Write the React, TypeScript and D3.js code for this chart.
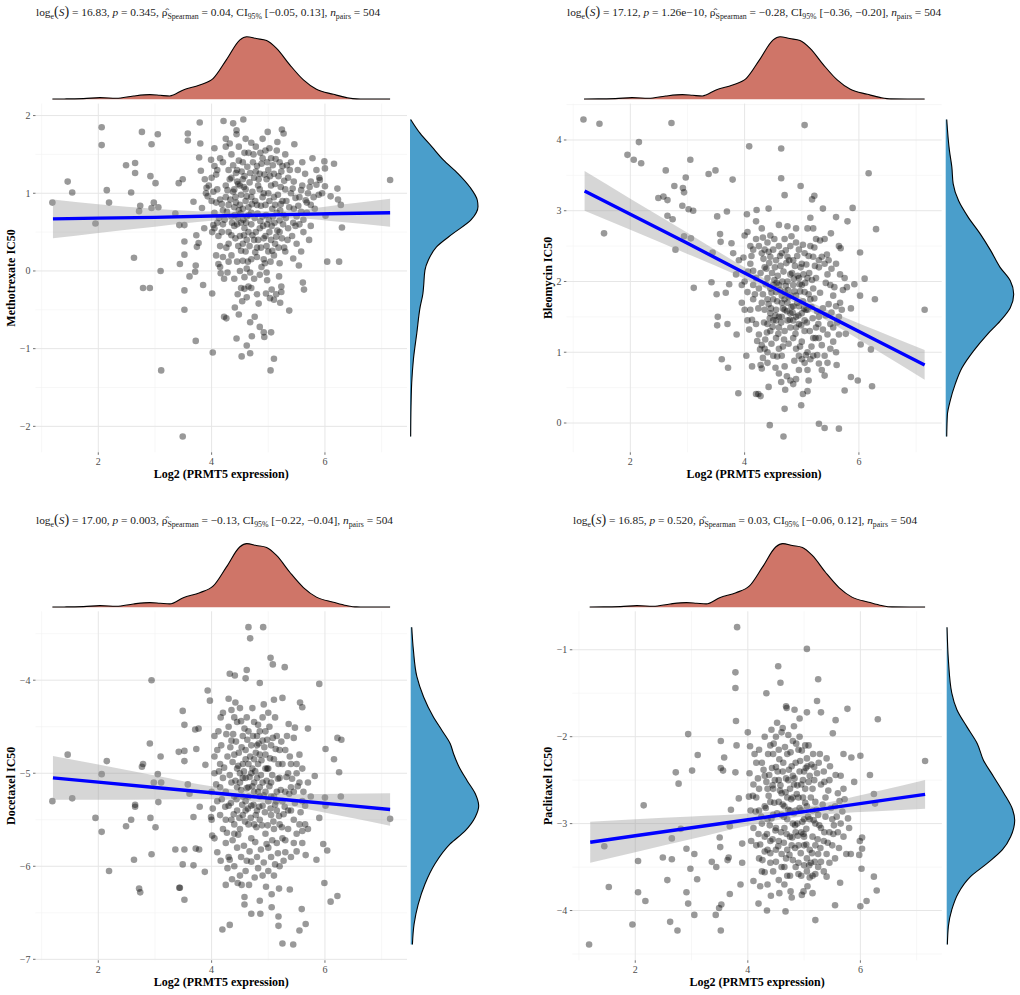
import React, { useEffect } from "react"
import * as d3 from "d3"

type Pt = [number, number]

// shared marginal density of PRMT5 expression (relative height, 1 = peak)
const exprDensity: Pt[] = [
  [1.19, 0.004], [1.44, 0.006], [1.74, 0.01], [2.03, 0.027], [2.32, 0.016], [2.62, 0.053],
  [2.91, 0.074], [3.09, 0.064], [3.26, 0.053], [3.5, 0.15], [3.79, 0.23], [4.03, 0.335],
  [4.26, 0.63], [4.5, 0.95], [4.62, 1.0], [4.79, 0.97], [4.97, 0.94], [5.15, 0.81],
  [5.38, 0.55], [5.62, 0.31], [5.85, 0.16], [6.15, 0.08], [6.38, 0.027], [6.56, 0.006], [7.15, 0.005],
]

const xTicks = [2, 4, 6]

// ---------- Methotrexate ----------
const methotrexatePoints: Pt[] = [
  [1.19, 0.88], [1.46, 1.15], [1.54, 1.01], [1.95, 0.61], [2.06, 1.85], [2.06, 1.62], [2.15, 1.04], [2.19, 0.88],
  [2.49, 1.36], [2.58, 1.01], [2.65, 1.39], [2.65, 1.26], [2.63, 0.17], [2.77, 1.79], [2.74, 0.84], [2.72, 0.77],
  [2.79, -0.22], [2.91, -0.22], [2.92, 1.22], [2.94, 1.63], [2.98, 0.88], [2.94, 0.81], [3.01, 1.13], [3.05, 1.76],
  [3.06, 0.82], [3.1, 0.0], [3.11, -1.28], [3.36, 0.74], [3.42, 1.13], [3.49, 1.18], [3.43, 0.59], [3.52, 0.59],
  [3.44, 0.09], [3.52, 0.21], [3.52, 0.38], [3.52, -0.25], [3.52, -0.5], [3.49, -2.13], [3.58, 1.77], [3.58, 1.68],
  [3.61, -0.07], [3.68, 0.89], [3.72, 0.07], [3.71, -0.01], [3.73, 0.46], [3.74, 0.31], [3.77, 0.36], [3.72, -0.9],
  [3.78, 1.46], [3.79, 1.91], [3.8, 1.64], [3.81, 1.29], [3.85, -0.18], [3.83, 0.81], [3.87, 0.55], [3.88, 1.18],
  [3.91, 1.07], [3.93, 0.96], [3.99, 1.43], [4.01, -0.29], [4.02, -1.05], [4.01, 0.5], [4.03, 0.59], [4.05, 1.58],
  [4.08, 1.24], [4.12, 0.09], [4.16, -0.03], [4.22, -0.59], [4.26, -0.61], [4.21, 1.93], [4.25, 1.7], [4.32, 1.64],
  [4.38, 1.9], [4.44, 1.81], [4.44, 1.76], [4.41, -0.47], [4.44, -0.87], [4.48, -0.56], [4.53, -1.1], [4.54, -0.39],
  [4.56, 1.95], [4.62, -0.96], [4.68, -1.06], [4.68, -0.66], [4.71, -0.84], [4.76, -0.59], [4.83, -0.42], [4.85, -0.72],
  [4.93, -0.85], [4.92, -0.79], [5.04, -1.28], [5.05, -0.79], [5.1, -1.13], [4.97, -0.02], [4.96, -0.29], [5.03, -0.35],
  [5.1, -0.37], [5.19, -0.07], [5.14, -0.3], [5.23, -0.2], [5.21, -0.41], [5.23, -0.27], [5.37, -0.51], [4.99, 1.79],
  [5.24, 1.82], [5.27, 1.77], [5.46, 1.63], [5.44, 0.16], [5.54, 0.07], [5.58, 0.25], [5.61, -0.15], [5.63, -0.24],
  [5.72, 0.4], [5.78, 1.45], [5.75, 0.58], [5.99, 1.41], [6.0, 1.32], [6.01, 0.71], [6.04, 0.12], [6.1, 0.96],
  [6.16, 1.38], [6.22, 1.06], [6.23, 0.92], [6.25, 0.12], [6.28, 0.85], [6.3, 0.56], [7.15, 1.17], [5.91, 1.17],
  [6.0, 1.09], [5.85, 1.11], [5.89, 0.98], [5.66, 0.91],
  [4.45, 1.15], [4.5, 1.1], [4.55, 1.18], [4.6, 1.05], [4.42, 0.95], [4.5, 0.85], [4.55, 0.8], [4.48, 0.78],
  [4.6, 0.9], [4.65, 0.82], [4.7, 0.75], [4.4, 0.82], [4.35, 0.7], [4.3, 0.85], [4.25, 0.95], [4.2, 0.78],
  [4.15, 0.92], [4.1, 1.05], [4.05, 0.55], [4.12, 0.45], [4.2, 0.6], [4.3, 0.5], [4.4, 0.58], [4.5, 0.45],
  [4.55, 0.35], [4.6, 0.25], [4.65, 0.5], [4.7, 0.6], [4.75, 0.4], [4.8, 0.3], [4.85, 0.55], [4.9, 0.7],
  [4.95, 0.85], [5.0, 1.0], [5.05, 1.1], [5.1, 0.95], [5.15, 0.75], [5.2, 0.65], [5.25, 0.9], [5.3, 1.05],
  [5.35, 1.2], [5.4, 1.0], [5.45, 0.8], [5.5, 0.7], [5.55, 0.95], [5.6, 1.1], [5.65, 1.25], [5.7, 1.0],
  [5.75, 0.85], [5.8, 0.95], [4.75, 1.2], [4.8, 1.35], [4.85, 1.25], [4.9, 1.45], [4.95, 1.55], [5.0, 1.3],
  [5.05, 1.45], [5.1, 1.25], [5.15, 1.55], [5.2, 1.4], [5.25, 1.35], [5.3, 1.5], [5.38, 1.3], [4.45, 1.3],
  [4.55, 1.4], [4.65, 1.52], [4.7, 1.65], [4.6, 1.7], [4.35, 1.5], [4.25, 1.6], [4.15, 1.45], [4.05, 1.35],
  [4.0, 1.2], [4.1, 1.3], [3.95, 1.1], [3.9, 1.0], [4.0, 0.9], [4.05, 0.75], [4.3, 0.35], [4.35, 0.2],
  [4.45, 0.12], [4.55, 0.13], [4.62, 0.03], [4.7, 0.15], [4.8, 0.18], [4.88, 0.05], [4.92, 0.15], [5.0, 0.25],
  [5.05, 0.4], [5.12, 0.35], [5.2, 0.5], [5.28, 0.3], [5.35, 0.55], [5.42, 0.45], [5.5, 0.35], [5.55, 0.6],
  [5.62, 0.5], [5.68, 0.75], [5.1, 0.2], [5.2, 0.1], [5.3, 0.25], [4.65, -0.2], [4.58, -0.23], [4.52, -0.22],
  [4.7, -0.22], [4.75, -0.1], [4.85, -0.05], [4.5, 0.0], [4.4, -0.1], [4.28, -0.02], [4.2, 0.18], [4.15, 0.32],
  [4.9, 0.95], [4.85, 1.05], [4.7, 0.95], [4.8, 0.85], [4.62, 0.7], [4.98, 0.6], [5.08, 0.7], [5.12, 0.85],
  [5.22, 1.08], [4.4, 1.05], [4.35, 1.2], [4.25, 1.1], [4.52, 0.62], [4.45, 0.6], [4.58, 0.55], [4.78, 0.5],
  [4.95, 0.45], [5.45, 1.15], [5.52, 1.3], [5.6, 1.4], [5.4, 1.4], [5.75, 1.15], [5.85, 1.3], [5.9, 1.2],
  [5.95, 1.0], [4.3, 1.3], [4.2, 1.4], [4.48, 1.6], [4.78, 1.6], [4.9, 1.7], [4.15, 0.05], [4.22, -0.1], [4.08, 0.2],
  [4.33, 0.92], [4.38, 1.02], [4.43, 0.88], [4.47, 1.12], [4.52, 0.98], [4.57, 1.08], [4.62, 0.96], [4.67, 1.14],
  [4.72, 1.02], [4.77, 0.9], [4.82, 1.1], [4.87, 0.84], [4.92, 1.0], [4.97, 1.18], [5.02, 0.9], [5.07, 0.8],
  [5.12, 1.12], [5.17, 0.98], [5.22, 0.86], [5.27, 0.72], [5.32, 0.9], [5.37, 0.82], [4.36, 0.62], [4.41, 0.72],
  [4.46, 0.68], [4.51, 0.74], [4.56, 0.66], [4.61, 0.62], [4.66, 0.72], [4.71, 0.86], [4.76, 0.68], [4.81, 0.74],
  [4.86, 0.64], [4.91, 0.58], [4.96, 0.72], [5.01, 0.66], [5.06, 0.58], [5.11, 0.62], [5.16, 0.52], [5.21, 0.78],
  [5.26, 0.6], [5.31, 0.68], [4.27, 0.76], [4.23, 0.66], [4.18, 0.86], [4.13, 0.68], [4.08, 0.88], [4.03, 1.02],
  [4.28, 1.04], [4.32, 1.18], [4.38, 1.36], [4.43, 1.26], [4.48, 1.42], [4.53, 1.28], [4.58, 1.22], [4.63, 1.34],
  [4.68, 1.26], [4.73, 1.4], [4.78, 1.28], [4.83, 1.18], [4.88, 1.38], [4.93, 1.24], [4.98, 1.4], [5.03, 1.22],
  [5.08, 1.36], [5.13, 1.44], [5.18, 1.22], [5.23, 1.28], [5.28, 1.16], [5.33, 1.36], [5.43, 1.06], [5.48, 0.94],
  [5.53, 0.84], [5.58, 0.76], [5.48, 0.58], [5.58, 1.04], [5.68, 0.88], [5.73, 1.08], [4.42, 0.42], [4.47, 0.32],
  [4.52, 0.26], [4.57, 0.46], [4.62, 0.4], [4.67, 0.32], [4.72, 0.46], [4.77, 0.24], [4.82, 0.4], [4.87, 0.3],
  [4.92, 0.42], [4.97, 0.32], [5.02, 0.5], [5.07, 0.26], [5.14, 0.44], [5.18, 0.3], [5.24, 0.42], [4.35, 0.46],
  [4.26, 0.3], [4.18, 0.5], [4.1, 0.62], [4.58, 1.52], [4.74, 1.5], [4.86, 1.52], [5.02, 1.58], [5.16, 1.66],
  [4.94, 0.1], [5.04, 0.12], [4.64, 0.12], [4.58, -0.08], [4.68, -0.02], [4.98, -0.12], [5.06, -0.24], [4.46, -0.3],
  [4.62, -0.34], [4.8, -0.3], [4.3, 0.12], [5.34, 0.4], [5.44, 0.62], [5.62, 0.66], [5.82, 0.8],
]
// [x, fit, lower, upper]
const methotrexateFit: [number, number, number, number][] = [
  [1.2, 0.67, 0.42, 0.92], [2.0, 0.68, 0.49, 0.86], [3.0, 0.69, 0.57, 0.8], [4.0, 0.707, 0.645, 0.765],
  [4.7, 0.717, 0.67, 0.765], [5.5, 0.728, 0.675, 0.785], [6.3, 0.739, 0.63, 0.855], [7.15, 0.75, 0.57, 0.93],
]
const methotrexateDensity: Pt[] = [
  [1.95, 0.01], [1.77, 0.15], [1.6, 0.32], [1.43, 0.49], [1.25, 0.71], [1.08, 0.88], [0.91, 0.99], [0.83, 1.0],
  [0.66, 0.9], [0.48, 0.63], [0.31, 0.39], [0.14, 0.27], [0.01, 0.22], [-0.2, 0.2], [-0.29, 0.19], [-0.46, 0.15],
  [-0.8, 0.1], [-1.14, 0.05], [-1.44, 0.025], [-1.74, 0.015], [-2.13, 0.01],
]
const methotrexateTicks = [-2, -1, 0, 1, 2]

// ---------- Bleomycin ----------
const bleomycinPoints: Pt[] = [
  [1.18, 4.29], [1.46, 4.23], [1.54, 2.68], [1.95, 3.79], [2.06, 3.72], [2.15, 3.97], [2.19, 3.67], [2.72, 4.24],
  [2.62, 3.57], [2.77, 3.35], [2.49, 3.18], [2.58, 3.2], [2.65, 3.15], [2.65, 2.93], [2.74, 2.88], [2.79, 2.45],
  [2.92, 3.32], [2.94, 3.26], [2.97, 3.47], [2.91, 3.07], [2.94, 2.64], [3.05, 3.72], [3.02, 3.02], [3.1, 3.0],
  [3.06, 2.61], [3.11, 1.91], [3.37, 3.52], [3.49, 3.57], [3.42, 1.99], [3.44, 2.41], [3.52, 2.92], [3.51, 1.82],
  [3.53, 1.5], [3.52, 1.38], [3.57, 2.67], [3.58, 2.56], [3.6, 0.9], [3.69, 2.99], [3.67, 1.84], [3.7, 1.4],
  [3.71, 0.78], [3.79, 3.44], [3.77, 2.54], [3.8, 2.4], [3.73, 1.96], [3.86, 1.25], [3.89, 0.42], [4.03, 0.95],
  [4.08, 3.91], [4.04, 2.95], [4.21, 3.01], [4.42, 3.03], [4.13, 0.8], [4.2, 0.41], [4.24, 0.41], [4.28, 0.38],
  [4.3, 0.77], [4.42, 0.51], [4.44, -0.03], [4.64, 3.88], [4.64, 3.46], [4.7, 3.22], [4.68, -0.19], [4.7, 0.2],
  [4.71, 0.47], [4.98, 3.35], [5.05, 4.21], [4.99, 0.25], [5.02, 0.41], [5.1, 0.45], [5.22, 3.21], [5.18, 3.16],
  [5.3, -0.01], [5.4, -0.07], [5.65, -0.08], [5.37, 3.03], [5.4, 0.67], [5.6, 2.91], [5.61, 0.82], [5.75, 0.46],
  [5.8, 2.85], [5.86, 0.65], [5.89, 3.04], [5.98, 0.6], [6.02, 2.41], [6.03, 1.11], [6.02, 1.8], [6.1, 2.04],
  [6.17, 3.53], [6.21, 1.04], [6.23, 0.52], [6.28, 1.75], [6.3, 2.74], [7.15, 1.6], [5.92, 1.96], [5.86, 1.62],
  [5.79, 1.92], [5.77, 1.26], [5.67, 1.7], [5.68, 2.47], [5.51, 2.68], [5.44, 2.38],
  [4.0, 2.0], [4.05, 1.85], [4.1, 2.25], [4.15, 2.45], [4.2, 2.6], [4.25, 2.5], [4.3, 2.4], [4.35, 2.2],
  [4.4, 2.05], [4.45, 1.9], [4.5, 1.75], [4.55, 1.6], [4.6, 1.5], [4.65, 1.7], [4.7, 1.85], [4.75, 2.0],
  [4.8, 2.1], [4.85, 1.95], [4.9, 1.8], [4.95, 1.65], [5.0, 1.55], [5.05, 1.45], [5.1, 1.6], [5.15, 1.75],
  [5.2, 1.9], [5.25, 2.05], [5.3, 2.2], [5.35, 2.35], [5.4, 2.25], [5.45, 2.1], [5.5, 1.95], [5.55, 1.8],
  [5.6, 1.65], [5.65, 1.5], [4.2, 1.4], [4.25, 1.25], [4.3, 1.1], [4.35, 1.05], [4.4, 1.0], [4.45, 1.3],
  [4.5, 1.45], [4.55, 1.2], [4.6, 1.05], [4.65, 0.95], [4.7, 1.3], [4.75, 1.45], [4.8, 1.35], [4.85, 1.2],
  [4.9, 1.05], [4.95, 0.95], [5.0, 1.15], [5.05, 1.3], [5.1, 1.0], [5.15, 0.9], [5.2, 1.2], [5.25, 1.35],
  [5.3, 1.5], [5.35, 1.1], [5.4, 0.95], [5.45, 1.25], [5.5, 1.05], [5.55, 1.35], [4.1, 1.6], [4.15, 1.75],
  [4.05, 1.45], [3.95, 1.7], [3.9, 2.3], [3.85, 2.1], [4.0, 2.65], [4.05, 2.7], [4.1, 2.5], [4.2, 2.85],
  [4.3, 2.75], [4.4, 2.55], [4.45, 2.65], [4.5, 2.45], [4.55, 2.3], [4.6, 2.5], [4.65, 2.4], [4.7, 2.6],
  [4.75, 2.35], [4.8, 2.5], [4.85, 2.3], [4.9, 2.55], [4.95, 2.45], [5.0, 2.25], [5.05, 2.4], [5.1, 2.75],
  [5.15, 2.5], [5.2, 2.35], [5.25, 2.6], [5.3, 2.3], [4.6, 2.8], [4.75, 2.78], [4.9, 2.75], [5.2, 2.75],
  [5.15, 2.9], [4.35, 1.6], [4.4, 1.75], [4.5, 1.95], [4.55, 1.85], [4.6, 1.95], [4.65, 1.8], [4.7, 1.6],
  [4.75, 1.7], [4.8, 1.8], [4.85, 1.65], [4.9, 1.5], [4.95, 1.4], [5.0, 1.95], [5.05, 1.85], [5.1, 2.05],
  [4.4, 1.4], [4.45, 1.55], [4.55, 1.45], [4.6, 1.35], [4.65, 1.5], [4.7, 1.75], [4.8, 1.55], [4.85, 1.45],
  [4.9, 1.35], [4.95, 2.05], [4.4, 0.85], [4.5, 0.95], [4.6, 0.7], [4.7, 0.8], [4.8, 0.6], [4.85, 0.55],
  [4.95, 0.75], [5.05, 0.85], [5.1, 0.75], [5.2, 0.95], [5.3, 1.2], [5.35, 0.75], [5.45, 0.85], [5.5, 1.4],
  [5.55, 1.15], [5.6, 1.0], [5.65, 1.25], [5.7, 1.6], [5.75, 2.05], [5.6, 2.25], [5.65, 2.5], [4.25, 1.9],
  [4.3, 1.7], [4.15, 2.15], [4.2, 2.05], [4.45, 2.35], [4.35, 2.45], [3.95, 1.95], [4.0, 1.6], [4.15, 1.95],
  [4.32, 1.82], [4.37, 1.96], [4.42, 1.68], [4.47, 1.84], [4.52, 2.02], [4.57, 1.72], [4.62, 1.88], [4.67, 1.62],
  [4.72, 1.94], [4.77, 1.78], [4.82, 1.64], [4.87, 1.86], [4.92, 1.7], [4.97, 1.86], [5.02, 1.72], [5.07, 1.6],
  [5.12, 1.82], [5.17, 1.64], [5.22, 1.76], [5.27, 1.58], [4.34, 1.42], [4.39, 1.28], [4.44, 1.48], [4.49, 1.36],
  [4.54, 1.52], [4.59, 1.26], [4.64, 1.42], [4.69, 1.18], [4.74, 1.58], [4.79, 1.46], [4.84, 1.56], [4.89, 1.26],
  [4.94, 1.52], [4.99, 1.38], [5.04, 1.62], [5.09, 1.42], [5.14, 1.3], [5.19, 1.48], [5.24, 1.2], [5.29, 1.4],
  [4.28, 2.12], [4.33, 2.32], [4.38, 2.18], [4.43, 2.26], [4.48, 2.12], [4.53, 2.2], [4.58, 2.08], [4.63, 2.22],
  [4.68, 2.14], [4.73, 2.26], [4.78, 2.3], [4.83, 2.12], [4.88, 2.22], [4.93, 2.08], [4.98, 2.2], [5.03, 2.1],
  [5.08, 2.24], [5.13, 2.12], [5.18, 2.02], [5.23, 2.22], [4.24, 1.62], [4.18, 1.82], [4.13, 1.46], [4.08, 1.32],
  [4.22, 1.16], [4.27, 1.04], [4.32, 0.92], [4.47, 1.12], [4.57, 0.94], [4.67, 1.08], [4.77, 1.12], [4.87, 0.88],
  [4.97, 1.08], [5.07, 0.96], [5.17, 1.08], [5.27, 0.96], [5.37, 1.32], [5.42, 1.52], [5.47, 1.68], [5.52, 1.56],
  [5.57, 1.92], [5.37, 1.62], [5.32, 1.84], [5.42, 1.98], [5.47, 2.3], [5.52, 2.18], [5.62, 1.42], [5.72, 1.88],
  [5.67, 2.1], [4.42, 2.42], [4.52, 2.6], [4.62, 2.36], [4.72, 2.44], [4.82, 2.64], [4.92, 2.36], [5.02, 2.52],
  [5.12, 2.36], [5.22, 2.48], [5.32, 2.58], [5.4, 2.6], [4.32, 2.62], [4.12, 2.36], [4.06, 2.14], [3.98, 2.34],
  [4.54, 0.78], [4.64, 0.58], [4.74, 0.66], [4.9, 0.62], [5.0, 0.9], [5.12, 0.6], [5.3, 0.84], [4.28, 0.82],
  [4.36, 1.18], [4.46, 1.62], [4.56, 1.98], [4.66, 2.0], [4.76, 1.88], [4.86, 2.04], [4.96, 1.96], [5.06, 1.98],
]
const bleomycinFit: [number, number, number, number][] = [
  [1.2, 3.28, 3.0, 3.56], [2.0, 2.95, 2.73, 3.17], [3.0, 2.54, 2.39, 2.69], [4.0, 2.12, 2.04, 2.2],
  [4.7, 1.83, 1.77, 1.89], [5.5, 1.5, 1.42, 1.58], [6.3, 1.17, 1.03, 1.31], [7.15, 0.82, 0.61, 1.03],
]
const bleomycinDensity: Pt[] = [
  [4.29, 0.015], [3.85, 0.055], [3.62, 0.09], [3.38, 0.11], [3.14, 0.19], [2.91, 0.33], [2.67, 0.51], [2.44, 0.66],
  [2.2, 0.8], [2.01, 0.95], [1.82, 1.0], [1.63, 0.95], [1.44, 0.8], [1.25, 0.61], [1.02, 0.41], [0.78, 0.24],
  [0.55, 0.14], [0.31, 0.065], [0.12, 0.025], [-0.19, 0.015],
]
const bleomycinTicks = [0, 1, 2, 3, 4]

// ---------- Docetaxel ----------
const docetaxelPoints: Pt[] = [
  [1.19, -5.3], [1.46, -4.8], [1.54, -5.27], [1.95, -5.48], [2.06, -5.01], [2.06, -5.63], [2.15, -4.87], [2.19, -6.05],
  [2.49, -5.57], [2.58, -5.5], [2.65, -5.34], [2.65, -5.36], [2.63, -5.93], [2.72, -6.24], [2.74, -6.28], [2.77, -4.93],
  [2.79, -4.9], [2.91, -4.68], [2.94, -4.0], [2.92, -5.48], [2.94, -5.87], [2.98, -5.1], [3.01, -5.58], [3.05, -5.01],
  [3.06, -5.31], [3.1, -4.82], [3.11, -5.1], [3.36, -5.82], [3.42, -4.77], [3.43, -6.23], [3.44, -6.23], [3.49, -5.98],
  [3.49, -4.33], [3.52, -4.48], [3.52, -4.87], [3.52, -4.76], [3.52, -5.82], [3.52, -6.36], [3.58, -5.12], [3.61, -5.22],
  [3.68, -5.47], [3.68, -5.99], [3.72, -5.81], [3.71, -4.53], [3.73, -4.74], [3.77, -4.52], [3.78, -5.82], [3.79, -5.36],
  [3.88, -6.06], [3.89, -4.91], [3.93, -4.11], [3.97, -4.22], [3.99, -5.47], [4.01, -5.67], [4.16, -5.94], [4.19, -6.68],
  [4.25, -6.2], [4.32, -6.63], [4.32, -5.93], [4.32, -3.93], [4.41, -3.95], [4.53, -6.2], [4.58, -6.33], [4.58, -6.41],
  [4.65, -3.43], [4.68, -3.55], [4.91, -3.43], [4.7, -6.51], [4.86, -6.51], [4.85, -6.37], [5.04, -3.76], [5.08, -3.83],
  [5.29, -3.86], [4.85, -4.03], [4.62, -3.89], [4.6, -3.98], [5.06, -6.44], [5.18, -6.54], [5.18, -6.64], [5.25, -6.83],
  [5.44, -6.84], [5.55, -6.69], [5.66, -6.62], [5.59, -6.46], [5.19, -6.24], [5.38, -6.25], [5.9, -4.04], [6.01, -4.74],
  [5.99, -6.18], [6.1, -6.38], [6.16, -4.85], [6.22, -4.62], [6.25, -4.99], [6.29, -4.64], [6.28, -5.25], [6.22, -6.32],
  [7.15, -5.49], [6.0, -5.26], [6.01, -5.35], [6.04, -5.83], [5.97, -5.76], [5.9, -5.48], [5.85, -5.93], [5.82, -5.03],
  [5.7, -4.52], [5.56, -4.24], [5.6, -4.29], [5.47, -4.51], [5.36, -4.47], [5.25, -4.19], [5.1, -4.21],
  [4.05, -4.6], [4.1, -4.75], [4.15, -4.9], [4.2, -5.05], [4.25, -5.2], [4.3, -5.35], [4.35, -5.5], [4.4, -5.65],
  [4.45, -5.8], [4.5, -5.6], [4.55, -5.45], [4.6, -5.3], [4.65, -5.15], [4.7, -5.0], [4.75, -4.85], [4.8, -4.7],
  [4.85, -4.55], [4.9, -4.65], [4.95, -4.8], [5.0, -4.95], [5.05, -5.1], [5.1, -5.25], [5.15, -5.4], [5.2, -5.55],
  [5.25, -5.7], [5.3, -5.85], [5.35, -5.6], [5.4, -5.4], [5.45, -5.2], [5.5, -5.0], [5.55, -4.8], [5.6, -5.3],
  [5.65, -5.55], [5.7, -5.1], [4.1, -5.3], [4.15, -5.45], [4.2, -5.6], [4.25, -5.75], [4.3, -4.5], [4.35, -4.65],
  [4.4, -4.8], [4.45, -4.95], [4.5, -5.1], [4.55, -5.25], [4.6, -5.4], [4.65, -5.55], [4.7, -5.7], [4.75, -5.55],
  [4.8, -5.4], [4.85, -5.25], [4.9, -5.1], [4.95, -4.95], [5.0, -5.3], [5.05, -5.45], [5.1, -5.6], [5.15, -5.75],
  [5.2, -5.05], [5.25, -4.9], [5.3, -4.75], [5.35, -5.0], [5.4, -5.15], [5.45, -5.5], [5.5, -5.65], [4.2, -4.35],
  [4.3, -4.2], [4.4, -4.4], [4.45, -4.45], [4.5, -4.3], [4.55, -4.6], [4.6, -4.75], [4.65, -4.55], [4.7, -4.7],
  [4.75, -4.45], [4.8, -4.6], [4.85, -4.8], [4.9, -4.4], [4.95, -4.55], [5.0, -4.35], [5.05, -4.7], [5.1, -4.85],
  [5.15, -4.6], [5.2, -4.75], [4.4, -5.25], [4.45, -5.4], [4.5, -5.0], [4.55, -4.9], [4.6, -5.05], [4.65, -4.9],
  [4.7, -5.35], [4.75, -5.2], [4.8, -5.05], [4.85, -5.5], [4.9, -5.35], [4.95, -5.65], [5.0, -5.8], [5.05, -5.9],
  [4.8, -5.9], [4.7, -5.95], [4.6, -6.05], [4.5, -6.1], [4.9, -6.1], [5.0, -6.05], [5.1, -6.1], [5.2, -6.0],
  [4.4, -6.0], [4.3, -5.9], [4.25, -5.5], [4.15, -5.15], [4.05, -5.0], [4.0, -5.2], [4.0, -5.5], [4.05, -5.7],
  [4.1, -5.85], [5.3, -5.2], [5.35, -5.4], [5.45, -5.75], [5.55, -5.55], [5.6, -5.75], [5.65, -5.35], [5.7, -5.6],
  [5.75, -5.25], [5.55, -5.1], [5.5, -4.9], [5.4, -4.9], [5.6, -4.95], [4.35, -5.1], [4.45, -5.15], [4.55, -5.05],
  [4.65, -5.25], [4.75, -5.1], [4.85, -5.15], [4.95, -5.2], [5.05, -5.25], [5.15, -5.2], [5.25, -5.3], [4.6, -4.85],
  [4.72, -4.95], [4.82, -4.9],
  [4.32, -5.02], [4.37, -4.88], [4.42, -5.08], [4.47, -4.92], [4.52, -5.18], [4.57, -4.98], [4.62, -5.16], [4.67, -5.04],
  [4.72, -5.14], [4.77, -4.98], [4.82, -5.2], [4.87, -5.02], [4.92, -5.24], [4.97, -5.08], [5.02, -5.14], [5.07, -5.02],
  [5.12, -5.34], [5.17, -5.06], [5.22, -5.18], [5.27, -5.44], [4.34, -5.32], [4.39, -5.44], [4.44, -5.28], [4.49, -5.48],
  [4.54, -5.34], [4.59, -5.52], [4.64, -5.38], [4.69, -5.48], [4.74, -5.34], [4.79, -5.58], [4.84, -5.36], [4.89, -5.56],
  [4.94, -5.42], [4.99, -5.56], [5.04, -5.38], [5.09, -5.52], [5.14, -5.3], [5.19, -5.46], [5.24, -5.58], [5.29, -5.36],
  [4.28, -4.82], [4.33, -4.72], [4.38, -4.58], [4.43, -4.66], [4.48, -4.78], [4.53, -4.72], [4.58, -4.52], [4.63, -4.64],
  [4.68, -4.82], [4.73, -4.6], [4.78, -4.78], [4.83, -4.68], [4.88, -4.86], [4.93, -4.72], [4.98, -4.64], [5.03, -4.84],
  [5.08, -4.62], [5.13, -4.74], [5.18, -4.9], [5.23, -4.66], [4.24, -5.36], [4.18, -5.28], [4.13, -4.98], [4.08, -5.12],
  [4.22, -4.94], [4.17, -4.7], [4.12, -4.55], [4.27, -5.64], [4.37, -5.72], [4.47, -5.66], [4.57, -5.78], [4.67, -5.84],
  [4.77, -5.74], [4.87, -5.82], [4.97, -5.76], [5.07, -5.72], [5.17, -5.86], [5.27, -5.94], [4.62, -5.94], [4.52, -5.9],
  [4.82, -6.02], [4.92, -5.96], [5.12, -5.98], [5.32, -5.04], [5.37, -5.22], [5.42, -5.06], [5.47, -5.32], [5.52, -5.14],
  [5.57, -5.42], [5.62, -5.2], [5.38, -4.82], [5.45, -4.62], [5.33, -4.6], [4.42, -4.24], [4.52, -4.44], [4.62, -4.4],
  [4.72, -4.3], [4.82, -4.48], [4.92, -4.26], [5.02, -4.5], [5.12, -4.4], [4.35, -4.32], [4.26, -4.58], [4.16, -4.4],
  [4.46, -6.18], [4.66, -6.2], [4.76, -6.12], [4.96, -6.22], [5.06, -6.3], [4.36, -6.14], [4.28, -6.02], [5.3, -5.72],
  [5.4, -5.9], [5.5, -5.84], [5.6, -5.62], [5.66, -5.88], [4.05, -4.82], [4.02, -5.38], [4.4, -5.55], [4.78, -5.45],
  [4.98, -4.95],
]
const docetaxelFit: [number, number, number, number][] = [
  [1.2, -5.05, -5.285, -4.815], [2.0, -5.096, -5.286, -4.906], [3.0, -5.153, -5.283, -5.023], [4.0, -5.21, -5.28, -5.14],
  [4.7, -5.25, -5.3, -5.2], [5.5, -5.296, -5.366, -5.226], [6.3, -5.34, -5.46, -5.22], [7.15, -5.39, -5.565, -5.215],
]
const docetaxelDensity: Pt[] = [
  [-3.43, 0.015], [-3.68, 0.04], [-3.96, 0.09], [-4.18, 0.19], [-4.39, 0.33], [-4.54, 0.46], [-4.68, 0.58],
  [-4.79, 0.63], [-4.93, 0.71], [-5.08, 0.83], [-5.22, 0.95], [-5.35, 1.0], [-5.47, 0.95], [-5.62, 0.8],
  [-5.76, 0.58], [-5.97, 0.36], [-6.19, 0.21], [-6.41, 0.11], [-6.62, 0.05], [-6.84, 0.025],
]
const docetaxelTicks = [-7, -6, -5, -4]

// ---------- Paclitaxel ----------
const paclitaxelPoints: Pt[] = [
  [1.18, -4.39], [1.45, -3.26], [1.53, -3.73], [1.95, -4.16], [2.05, -3.43], [2.05, -3.79], [2.15, -2.79], [2.18, -3.89],
  [2.49, -3.39], [2.57, -3.65], [2.62, -4.13], [2.65, -3.41], [2.65, -3.17], [2.72, -2.41], [2.75, -4.23], [2.77, -2.54],
  [2.81, -3.06], [2.91, -3.29], [2.91, -3.79], [2.94, -3.92], [2.94, -1.97], [2.98, -3.52], [3.01, -2.39], [3.05, -3.35],
  [3.05, -4.05], [3.1, -3.64], [3.11, -2.21], [3.36, -3.44], [3.43, -4.05], [3.44, -3.5], [3.49, -3.97], [3.5, -3.16],
  [3.51, -3.27], [3.52, -2.05], [3.52, -4.23], [3.53, -3.93], [3.52, -2.36], [3.56, -2.39], [3.58, -2.24], [3.64, -3.42],
  [3.66, -3.39], [3.68, -3.81], [3.68, -3.03], [3.7, -2.84], [3.78, -1.26], [3.78, -1.44], [3.79, -1.82], [3.8, -2.1],
  [3.78, -2.41], [3.81, -0.74], [3.84, -2.71], [3.87, -3.7], [3.9, -3.23], [3.9, -3.45], [4.19, -3.92], [4.34, -4.0],
  [4.67, -4.01], [5.2, -4.11], [5.55, -3.94], [6.0, -3.95], [6.11, -3.89], [6.29, -3.77], [6.24, -3.61], [6.02, -3.52],
  [4.54, -1.19], [4.58, -1.38], [4.33, -1.5], [5.05, -0.99], [5.25, -1.34], [5.23, -1.59], [4.68, -1.65], [4.69, -1.67],
  [4.83, -1.69], [5.05, -1.72], [5.3, -1.72], [4.92, -1.79], [5.56, -1.81], [5.77, -1.68], [6.31, -1.8], [5.51, -1.96],
  [7.15, -2.28], [6.0, -2.22], [5.84, -2.24], [5.7, -2.2], [6.17, -2.44], [5.89, -2.52], [6.24, -2.66], [6.26, -2.77],
  [6.03, -3.16], [5.99, -3.2], [6.03, -3.29], [5.98, -3.36], [5.83, -3.35], [5.64, -3.68], [5.4, -3.61], [5.15, -3.8],
  [4.99, -3.78], [4.78, -3.85], [4.41, -3.83], [4.22, -3.72], [4.1, -3.66], [4.03, -2.42], [4.02, -2.69], [4.04, -2.11],
  [4.0, -1.95],
  [4.2, -2.15], [4.25, -2.3], [4.3, -2.45], [4.35, -2.6], [4.4, -2.75], [4.45, -2.9], [4.5, -3.05], [4.55, -3.2],
  [4.6, -3.35], [4.65, -3.5], [4.7, -3.3], [4.75, -3.15], [4.8, -3.0], [4.85, -2.85], [4.9, -2.7], [4.95, -2.55],
  [5.0, -2.4], [5.05, -2.25], [5.1, -2.45], [5.15, -2.6], [5.2, -2.75], [5.25, -2.9], [5.3, -3.05], [5.35, -3.2],
  [5.4, -3.35], [5.45, -3.1], [5.5, -2.95], [5.55, -2.8], [5.6, -2.65], [5.65, -3.0], [5.7, -3.15], [4.1, -2.55],
  [4.15, -2.7], [4.2, -2.85], [4.25, -3.0], [4.3, -3.15], [4.35, -3.3], [4.4, -3.45], [4.45, -2.2], [4.5, -2.35],
  [4.55, -2.5], [4.6, -2.65], [4.65, -2.8], [4.7, -2.95], [4.75, -2.6], [4.8, -2.45], [4.85, -2.3], [4.9, -2.15],
  [4.95, -3.1], [5.0, -3.25], [5.05, -3.4], [5.1, -3.3], [5.15, -3.15], [5.2, -3.0], [5.25, -3.35], [5.3, -2.55],
  [5.35, -2.4], [5.4, -2.25], [5.45, -2.5], [5.5, -3.25], [5.55, -3.4], [4.4, -2.1], [4.5, -2.0], [4.6, -1.95],
  [4.7, -2.2], [4.8, -2.05], [4.3, -2.0], [4.15, -2.3], [4.05, -2.85], [4.1, -3.05], [4.15, -3.25], [4.2, -3.4],
  [4.25, -3.55], [4.35, -3.7], [4.45, -3.55], [4.55, -3.65], [4.65, -3.7], [4.75, -3.6], [4.85, -3.5], [4.95, -3.6],
  [5.05, -3.55], [5.15, -3.6], [5.25, -3.5], [5.35, -3.55], [5.45, -3.45], [4.45, -2.6], [4.55, -2.75], [4.6, -2.9],
  [4.65, -3.05], [4.7, -2.7], [4.75, -2.85], [4.8, -2.7], [4.85, -3.1], [4.9, -3.25], [4.95, -2.85], [5.0, -2.95],
  [5.05, -2.8], [5.1, -2.95], [5.15, -2.85], [4.5, -3.3], [4.4, -3.2], [4.3, -2.8], [4.35, -2.95], [4.2, -2.6],
  [5.6, -3.1], [5.65, -2.45], [5.7, -2.6], [5.75, -3.35], [5.8, -3.05], [4.9, -3.45], [5.0, -3.15], [5.12, -3.45],
  [5.2, -3.25], [4.62, -2.4], [4.72, -2.5], [4.82, -2.55], [4.92, -2.4], [5.02, -2.6], [5.18, -2.35], [5.28, -2.2],
  [5.38, -2.7], [4.55, -2.15], [4.68, -3.4], [4.78, -3.25], [4.88, -3.0], [4.98, -2.7], [5.08, -2.1],
  [4.32, -2.82], [4.37, -2.68], [4.42, -2.94], [4.47, -2.76], [4.52, -2.88], [4.57, -2.62], [4.62, -2.78], [4.67, -2.64],
  [4.72, -2.84], [4.77, -2.72], [4.82, -2.88], [4.87, -2.66], [4.92, -2.82], [4.97, -2.98], [5.02, -2.76], [5.07, -2.92],
  [5.12, -2.7], [5.17, -2.96], [5.22, -2.84], [5.27, -3.02], [4.34, -3.12], [4.39, -3.02], [4.44, -3.18], [4.49, -3.08],
  [4.54, -3.26], [4.59, -3.1], [4.64, -3.22], [4.69, -3.12], [4.74, -3.36], [4.79, -3.16], [4.84, -3.28], [4.89, -3.14],
  [4.94, -3.34], [4.99, -3.12], [5.04, -3.24], [5.09, -3.48], [5.14, -3.34], [5.19, -3.44], [5.24, -3.18], [5.29, -3.28],
  [4.28, -2.38], [4.33, -2.52], [4.38, -2.44], [4.43, -2.36], [4.48, -2.5], [4.53, -2.4], [4.58, -2.56], [4.63, -2.3],
  [4.68, -2.48], [4.73, -2.38], [4.78, -2.34], [4.83, -2.48], [4.88, -2.56], [4.93, -2.28], [4.98, -2.5], [5.03, -2.36],
  [5.08, -2.52], [5.13, -2.32], [5.18, -2.5], [5.23, -2.42], [4.24, -2.92], [4.19, -3.12], [4.14, -2.86], [4.09, -2.68],
  [4.22, -3.24], [4.26, -3.42], [4.3, -3.56], [4.4, -3.34], [4.5, -3.44], [4.6, -3.5], [4.7, -3.6], [4.8, -3.42],
  [4.9, -3.58], [5.0, -3.48], [5.1, -3.62], [5.2, -3.58], [5.3, -3.44], [4.36, -2.2], [4.46, -2.08], [4.56, -2.26],
  [4.66, -2.12], [4.76, -2.18], [4.86, -2.08], [4.96, -2.16], [5.06, -2.34], [5.16, -2.2], [5.26, -2.3], [5.33, -2.78],
  [5.38, -2.92], [5.43, -2.62], [5.48, -2.82], [5.53, -3.02], [5.58, -2.92], [5.63, -2.74], [5.36, -3.1], [5.42, -3.22],
  [5.52, -3.12], [5.62, -3.28], [5.68, -2.86], [5.72, -2.72], [5.78, -2.94], [5.46, -2.34], [5.56, -2.44], [5.36, -2.52],
  [4.62, -1.9], [4.72, -1.98], [4.42, -1.92], [4.52, -1.84], [4.82, -1.88], [4.92, -2.0], [5.02, -2.1], [4.56, -3.8],
  [4.76, -3.78], [4.96, -3.82], [5.06, -3.72], [4.3, -3.32], [4.18, -2.48], [4.12, -2.2], [4.06, -3.2], [4.44, -2.56],
  [4.64, -2.92], [4.84, -3.02], [5.04, -3.06],
]
const paclitaxelFit: [number, number, number, number][] = [
  [1.2, -3.215, -3.45, -2.98], [2.0, -3.14, -3.33, -2.95], [3.0, -3.048, -3.178, -2.918], [4.0, -2.955, -3.025, -2.885],
  [4.7, -2.89, -2.94, -2.84], [5.5, -2.816, -2.886, -2.746], [6.3, -2.742, -2.857, -2.627], [7.15, -2.663, -2.828, -2.498],
]
const paclitaxelDensity: Pt[] = [
  [-0.74, 0.005], [-1.12, 0.025], [-1.5, 0.075], [-1.69, 0.15], [-1.89, 0.3], [-2.08, 0.45], [-2.27, 0.54],
  [-2.46, 0.69], [-2.65, 0.84], [-2.84, 0.97], [-2.96, 1.0], [-3.15, 0.94], [-3.3, 0.82], [-3.46, 0.59],
  [-3.61, 0.35], [-3.8, 0.17], [-3.99, 0.075], [-4.18, 0.025], [-4.39, 0.01],
]
const paclitaxelTicks = [-4, -3, -2, -1]

interface PanelCfg {
  points: Pt[]
  fit: [number, number, number, number][]
  density: Pt[]
  yTicks: number[]
  yTitle: string
  stats: { logS: string; p: string; rho: string; ci: string }
  left: number
  right: number
  top: number
  bottom: number
  densBase: number
  densPeak: number
  sideBase: number
  subX: number
  subY: number
  yTitleX: number
  xTitleY: number
}

const rowTop = { top: 103.6, bottom: 452.3, densBase: 99.3, densPeak: 36.7, subY: 16.2, xTitleY: 477.5 }
const rowBottom = { top: 611.3, bottom: 960.3, densBase: 607.3, densPeak: 543.6, subY: 524, xTitleY: 986 }

const panels: PanelCfg[] = [
  {
    points: methotrexatePoints, fit: methotrexateFit, density: methotrexateDensity, yTicks: methotrexateTicks,
    yTitle: "Methotrexate IC50", stats: { logS: "16.83", p: "0.345", rho: "0.04", ci: "[−0.05, 0.13]" },
    left: 35.5, right: 407, sideBase: 410, subX: 36, yTitleX: 15, ...rowTop,
  },
  {
    points: bleomycinPoints, fit: bleomycinFit, density: bleomycinDensity, yTicks: bleomycinTicks,
    yTitle: "Bleomycin IC50", stats: { logS: "17.12", p: "1.26e−10", rho: "−0.28", ci: "[−0.36, −0.20]" },
    left: 566.4, right: 941.7, sideBase: 945.7, subX: 567, yTitleX: 551.7, ...rowTop,
  },
  {
    points: docetaxelPoints, fit: docetaxelFit, density: docetaxelDensity, yTicks: docetaxelTicks,
    yTitle: "Docetaxel IC50", stats: { logS: "17.00", p: "0.003", rho: "−0.13", ci: "[−0.22, −0.04]" },
    left: 35.5, right: 407, sideBase: 410.7, subX: 36, yTitleX: 15, ...rowBottom,
  },
  {
    points: paclitaxelPoints, fit: paclitaxelFit, density: paclitaxelDensity, yTicks: paclitaxelTicks,
    yTitle: "Paclitaxel IC50", stats: { logS: "16.85", p: "0.520", rho: "0.03", ci: "[−0.06, 0.12]" },
    left: 572.3, right: 941.9, sideBase: 946.7, subX: 573, yTitleX: 551.7, ...rowBottom,
  },
]

const serif = "'Liberation Serif', 'Times New Roman', Times, serif"
const fmt = d3.format("")

function expandedDomain(vals: number[]): [number, number] {
  const [lo, hi] = d3.extent(vals) as [number, number]
  const pad = (hi - lo) * 0.05
  return [lo - pad, hi + pad]
}

function minorOf(ticks: number[], domain: [number, number]) {
  const step = ticks[1] - ticks[0]
  const out: number[] = []
  for (let i = -1; i < ticks.length; i++) {
    const v = ticks[0] + step * i + step / 2
    if (v >= domain[0] && v <= domain[1]) out.push(v)
  }
  return out
}

function Subtitle({ cfg }: { cfg: PanelCfg }) {
  const fs = 11.4
  const sub = 7.8
  const s = cfg.stats
  return (
    <text x={cfg.subX} y={cfg.subY} fontFamily={serif} fontSize={fs} fill="#1a1a1a" style={{ whiteSpace: "pre" }}>
      <tspan>log</tspan>
      <tspan fontSize={sub} dy={2.5}>e</tspan>
      <tspan fontSize={14} dy={-2.5}>(</tspan>
      <tspan fontStyle="italic">S</tspan>
      <tspan fontSize={14}>)</tspan>
      <tspan>{` = ${s.logS}, `}</tspan>
      <tspan fontStyle="italic">p</tspan>
      <tspan>{` = ${s.p}, ρ̂`}</tspan>
      <tspan fontSize={sub} dy={2.5}>Spearman</tspan>
      <tspan dy={-2.5}>{` = ${s.rho}, CI`}</tspan>
      <tspan fontSize={sub} dy={2.5}>95%</tspan>
      <tspan dy={-2.5}>{` ${s.ci}, `}</tspan>
      <tspan fontStyle="italic">n</tspan>
      <tspan fontSize={sub} dy={2.5}>pairs</tspan>
      <tspan dy={-2.5}>{" = 504"}</tspan>
    </text>
  )
}

function Panel({ cfg }: { cfg: PanelCfg }) {
  const xDom = expandedDomain(cfg.points.map((d) => d[0]))
  const yDom = expandedDomain(cfg.points.map((d) => d[1]))
  const x = d3.scaleLinear().domain(xDom).range([cfg.left, cfg.right])
  const y = d3.scaleLinear().domain(yDom).range([cfg.bottom, cfg.top])
  const hTop = d3.scaleLinear().domain([0, 1]).range([cfg.densBase, cfg.densPeak])
  const wSide = d3.scaleLinear().domain([0, 1]).range([cfg.sideBase, cfg.sideBase + 68])

  const xMinor = minorOf(xTicks, xDom)
  const yMinor = minorOf(cfg.yTicks, yDom)

  const topArea = d3.area<Pt>().x((d) => x(d[0])).y0(cfg.densBase).y1((d) => hTop(d[1])).curve(d3.curveMonotoneX)
  const topLine = d3.line<Pt>().x((d) => x(d[0])).y((d) => hTop(d[1])).curve(d3.curveMonotoneX)
  const sideArea = d3.area<Pt>().y((d) => y(d[0])).x0(cfg.sideBase).x1((d) => wSide(d[1])).curve(d3.curveMonotoneY)
  const sideLine = d3.line<Pt>().y((d) => y(d[0])).x((d) => wSide(d[1])).curve(d3.curveMonotoneY)

  type F = [number, number, number, number]
  const band = d3.area<F>().x((d) => x(d[0])).y0((d) => y(d[2])).y1((d) => y(d[3])).curve(d3.curveMonotoneX)
  const fitLine = d3.line<F>().x((d) => x(d[0])).y((d) => y(d[1]))

  const midX = (cfg.left + cfg.right) / 2
  const midY = (cfg.top + cfg.bottom) / 2

  return (
    <g>
      <Subtitle cfg={cfg} />
      {/* grid */}
      {xMinor.map((v) => (
        <line key={"xm" + v} x1={x(v)} x2={x(v)} y1={cfg.top} y2={cfg.bottom} stroke="#f2f2f2" strokeWidth={0.6} />
      ))}
      {yMinor.map((v) => (
        <line key={"ym" + v} x1={cfg.left} x2={cfg.right} y1={y(v)} y2={y(v)} stroke="#f2f2f2" strokeWidth={0.6} />
      ))}
      {xTicks.map((v) => (
        <line key={"xg" + v} x1={x(v)} x2={x(v)} y1={cfg.top} y2={cfg.bottom} stroke="#e6e6e6" strokeWidth={1} />
      ))}
      {cfg.yTicks.map((v) => (
        <line key={"yg" + v} x1={cfg.left} x2={cfg.right} y1={y(v)} y2={y(v)} stroke="#e6e6e6" strokeWidth={1} />
      ))}
      {/* axes */}
      {xTicks.map((v) => (
        <g key={"xt" + v}>
          <line x1={x(v)} x2={x(v)} y1={cfg.bottom} y2={cfg.bottom + 2.5} stroke="#4d4d4d" strokeWidth={0.8} />
          <text x={x(v)} y={cfg.bottom + 12.5} textAnchor="middle" fontFamily={serif} fontSize={10} fill="#4d4d4d">
            {fmt(v)}
          </text>
        </g>
      ))}
      {cfg.yTicks.map((v) => (
        <g key={"yt" + v}>
          <line x1={cfg.left - 2.5} x2={cfg.left} y1={y(v)} y2={y(v)} stroke="#4d4d4d" strokeWidth={0.8} />
          <text x={cfg.left - 5} y={y(v) + 3.4} textAnchor="end" fontFamily={serif} fontSize={10} fill="#4d4d4d">
            {fmt(v)}
          </text>
        </g>
      ))}
      <text x={midX} y={cfg.xTitleY} textAnchor="middle" fontFamily={serif} fontSize={12} fontWeight="bold" fill="#000">
        Log2 (PRMT5 expression)
      </text>
      <text
        transform={`translate(${cfg.yTitleX},${midY}) rotate(-90)`}
        textAnchor="middle"
        fontFamily={serif}
        fontSize={12}
        fontWeight="bold"
        fill="#000"
      >
        {cfg.yTitle}
      </text>
      {/* points */}
      {cfg.points.map((d, i) => (
        <circle key={i} cx={x(d[0])} cy={y(d[1])} r={3.3} fill="#000" fillOpacity={0.4} />
      ))}
      {/* smooth */}
      <path d={band(cfg.fit) || ""} fill="#999999" fillOpacity={0.4} />
      <path d={fitLine(cfg.fit) || ""} fill="none" stroke="#0000ff" strokeWidth={3.4} />
      {/* marginals */}
      <path d={topArea(exprDensity) || ""} fill="#cf7568" />
      <path d={topLine(exprDensity) || ""} fill="none" stroke="#000" strokeWidth={1.1} />
      <path d={sideArea(cfg.density) || ""} fill="#4a9ecb" />
      <path d={sideLine(cfg.density) || ""} fill="none" stroke="#000" strokeWidth={1.1} />
    </g>
  )
}

export default function App() {
  useEffect(() => {
    document.body.style.margin = "0"
  }, [])
  return (
    <svg width={1020} height={995} style={{ display: "block", background: "#fff" }}>
      <rect width={1020} height={995} fill="#fff" />
      {panels.map((p, i) => (
        <Panel key={i} cfg={p} />
      ))}
    </svg>
  )
}
